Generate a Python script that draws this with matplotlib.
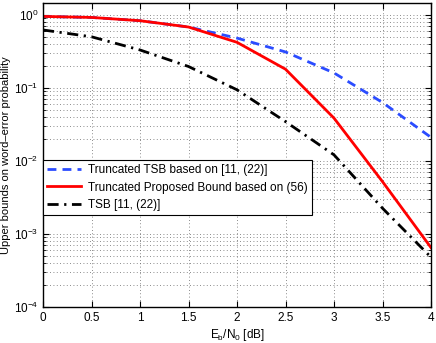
import matplotlib
matplotlib.use('Agg')
import matplotlib.pyplot as plt
from matplotlib.ticker import LogLocator, NullFormatter

plt.rcParams['font.family'] = ['Liberation Sans', 'DejaVu Sans']
plt.rcParams['mathtext.fontset'] = 'custom'
plt.rcParams['mathtext.rm'] = 'Liberation Sans'

# Eb/N0 [dB]
snr = [0, 0.5, 1, 1.5, 2, 2.5, 3, 3.5, 4]
# upper bounds on word-error probability
tsb_trunc = [0.95, 0.92, 0.83, 0.68, 0.48, 0.31, 0.16, 0.063, 0.021]
proposed_trunc = [0.95, 0.92, 0.83, 0.68, 0.42, 0.18, 0.0385, 0.0052, 0.00065]
tsb = [0.62, 0.50, 0.33, 0.196, 0.094, 0.0345, 0.0121, 0.00225, 0.00048]

labels = ['Truncated TSB based on [11, (22)]',
          'Truncated Proposed Bound based on (56)',
          'TSB [11, (22)]']

fig = plt.figure(figsize=(4.36, 3.43), dpi=100)
ax = fig.add_axes([43 / 436, 36 / 343, 388 / 436, 304 / 343])

ax.semilogy(snr, tsb_trunc, color='#2b4cff', ls=(0, (3.2, 2.2)), lw=2, label=labels[0])
ax.semilogy(snr, proposed_trunc, color='#ff0000', ls='-', lw=2, label=labels[1])
ax.semilogy(snr, tsb, color='black', ls=(0, (4, 2, 0.8, 2)), lw=2, label=labels[2])

ax.set_xlim(0, 4)
ax.set_ylim(1e-4, 1.45)
ax.set_xticks([0, 0.5, 1, 1.5, 2, 2.5, 3, 3.5, 4])
ax.set_xticklabels(['0', '0.5', '1', '1.5', '2', '2.5', '3', '3.5', '4'])
ax.yaxis.set_major_locator(LogLocator(base=10, numticks=10))
ax.yaxis.set_minor_locator(LogLocator(base=10, subs=range(2, 10), numticks=10))
ax.yaxis.set_minor_formatter(NullFormatter())

ax.grid(True, which='major', ls=(0, (1, 3)), color='#666666', lw=0.6)
ax.grid(True, which='minor', axis='y', ls=(0, (1, 3)), color='#666666', lw=0.6)
ax.tick_params(which='both', direction='in', top=True, right=True, labelsize=8.5)
ax.tick_params(which='major', length=4)
ax.tick_params(which='minor', length=2)
for s in ax.spines.values():
    s.set_linewidth(1)

ax.set_xlabel(r'E$_\mathregular{b}$/N$_\mathregular{0}$ [dB]', fontsize=8.5, labelpad=2)
ax.set_ylabel('Upper bounds on word–error probability', fontsize=8)
ax.yaxis.set_label_coords(-0.082, 0.5)

leg = ax.legend(loc='upper left', bbox_to_anchor=(0, 0.483), fontsize=8.5,
                frameon=True, fancybox=False, edgecolor='black', framealpha=1,
                handlelength=2.9, handletextpad=0.6, borderaxespad=0,
                borderpad=0.35, labelspacing=0.45)
leg.get_frame().set_linewidth(0.8)

fig.savefig('out.png', dpi=100)
